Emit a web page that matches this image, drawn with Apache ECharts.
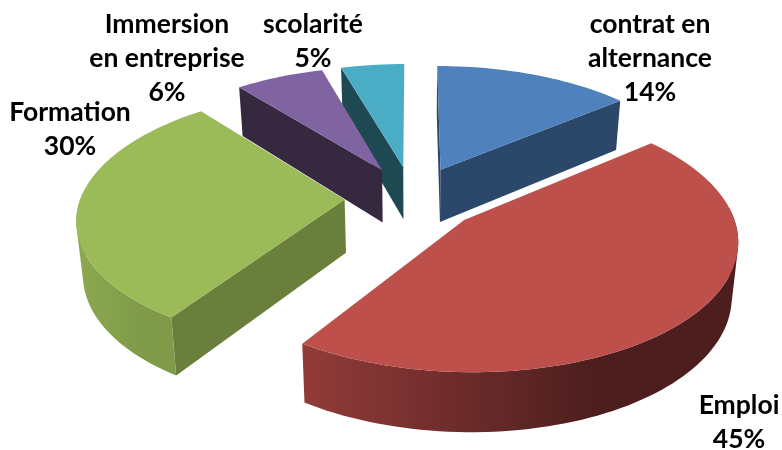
<!DOCTYPE html>
<html>
<head>
<meta charset="utf-8">
<style>html,body{margin:0;padding:0;background:#fff}#c{width:782px;height:450px}</style>
<script src="https://cdn.jsdelivr.net/npm/echarts@6/dist/echarts.min.js"></script>
</head>
<body>
<div id="c"></div>
<script>
const categories = ['contrat en\nalternance', 'Emploi', 'Formation', 'Immersion\nen entreprise', 'scolarité'];
const values = [14, 45.3, 29.9, 6.3, 4.5];
const topColors = ['#4F81BD', '#BE504C', '#9BBB59', '#8064A2', '#4BACC6'];
const wallColors = ['#2B4769', '#6A7F3C', '#6A7F3C', '#35283F', '#1E4953'];
const rimLeft = ['#2B4769', '#923B39', '#8CA950', '#35283F', '#1E4953'];
const rimMid = ['#2B4769', '#4C1E1E', '#7F9A49', '#35283F', '#1E4953'];
const labelX = [650, 739, 70, 167, 313];
const labelTop = [7, 388, 95, 7, 7];

// projection of the exploded pie onto the screen
const cx = 412.5, cy = 198, R = 264, S = 125, k = 0.136, explode = 0.257, depth = 53.2, depthPow = 0.69, baseScale = 0.98;
const total = values.reduce((a, b) => a + b, 0);

function project(U, V, bottom) {
  const w = 1 + k * V;
  let x = R * U / w;
  let y = -S * V / w;
  if (bottom) { x *= baseScale; y += depth / Math.pow(w, depthPow); }
  return [cx + x, cy + y];
}

function renderItem(params, api) {
  const i = params.dataIndex;
  const value = api.value(0);
  let before = 0;
  for (let j = 0; j < i; j++) before += values[j];
  const a0 = before / total * Math.PI * 2;
  const a1 = (before + value) / total * Math.PI * 2;
  const mid = (a0 + a1) / 2;
  const ou = explode * Math.sin(mid), ov = explode * Math.cos(mid);
  const rimPt = (a, b) => project(ou + Math.sin(a), ov + Math.cos(a), b);
  const n = Math.max(6, Math.round((a1 - a0) / 0.03));
  const arcTop = [], arcBot = [], angles = [];
  for (let s = 0; s <= n; s++) {
    const a = a0 + (a1 - a0) * s / n;
    angles.push(a);
    arcTop.push(rimPt(a, false));
    arcBot.push(rimPt(a, true));
  }
  const apexT = project(ou, ov, false), apexB = project(ou, ov, true);
  const z = Math.round((1 - ov) * 100);
  const poly = (points, fill, zz) => ({
    type: 'polygon', z2: z + zz, shape: { points },
    style: { fill, stroke: null }
  });
  const xs = [];
  let rimPath = '';
  // only the quads of the outer wall that face the viewer; their union follows the rim's envelope
  for (let s = 0; s < n; s++) {
    if (Math.cos((angles[s] + angles[s + 1]) / 2) > 0.1) continue;
    const q = [arcTop[s], arcTop[s + 1], arcBot[s + 1], arcBot[s]];
    q.forEach(p => xs.push(p[0]));
    const area = q.reduce((acc, p, t) => {
      const o = q[(t + 1) % 4];
      return acc + p[0] * o[1] - o[0] * p[1];
    }, 0);
    const ordered = area < 0 ? q.slice().reverse() : q;
    rimPath += 'M' + ordered.map(p => p[0].toFixed(2) + ' ' + p[1].toFixed(2)).join('L') + 'Z';
  }
  const children = [];
  if (Math.sin(a0) <= 1e-9) children.push(poly([apexT, arcTop[0], arcBot[0], apexB], wallColors[i], 0));
  if (Math.sin(a1) > 1e-9) children.push(poly([apexT, arcTop[n], arcBot[n], apexB], wallColors[i], 0));
  if (rimPath) {
    children.push({
      type: 'path', z2: z + 1, shape: { pathData: rimPath },
      style: {
        stroke: null,
        fill: {
          type: 'linear', global: true,
          x: Math.min.apply(null, xs), y: 0, x2: Math.max.apply(null, xs), y2: 0,
          colorStops: [
            { offset: 0, color: rimLeft[i] },
            { offset: 0.68, color: rimMid[i] },
            { offset: 1, color: rimMid[i] }
          ]
        }
      }
    });
  }
  children.push(poly([apexT].concat(arcTop), topColors[i], 2));
  children.push({
    type: 'text', z2: 500, x: labelX[i], y: labelTop[i],
    style: {
      text: categories[i] + '\n' + Math.round(value) + '%',
      fill: '#000', align: 'center', verticalAlign: 'top',
      font: 'bold 26.5px Lato', lineHeight: 34
    }
  });
  return { type: 'group', children };
}

const chart = echarts.init(document.getElementById('c'), null, { renderer: 'canvas' });
chart.setOption({
  backgroundColor: '#fff',
  animation: false,
  series: [{
    type: 'custom',
    coordinateSystem: 'none',
    silent: true,
    renderItem,
    data: values.map((v, i) => [v, i])
  }]
});
</script>
</body>
</html>
